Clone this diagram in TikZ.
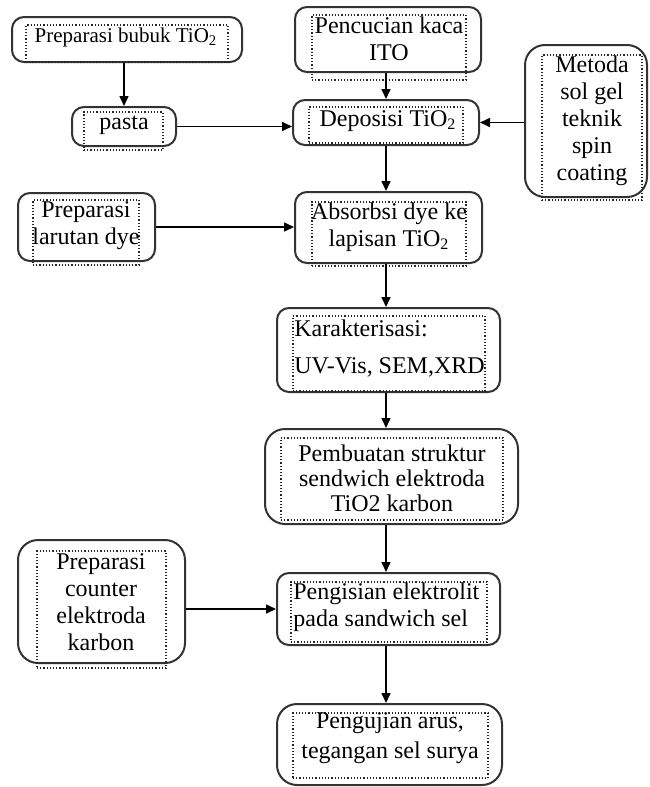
\documentclass[tikz,border=0pt]{standalone}
\usepackage{fontspec}
\setmainfont{Liberation Serif}
\usetikzlibrary{fit,arrows.meta}

\begin{document}
\begin{tikzpicture}[x=0.5pt, y=-0.5pt,
      >={Triangle[length=5pt,width=4.5pt]},
      box/.style={
        draw=black!80,
        line width=1pt,
        rounded corners=6pt,
        inner sep=0pt
      },
      tallbox/.style={
        box,
        rounded corners=10pt
      },
      dotbox/.style={
        draw=black!85,
        densely dotted,
        line width=0.6pt,
        inner sep=0pt
      },
      txt/.style={
        align=center,
        inner sep=0pt,
        font=\fontsize{12}{13.5}\selectfont
      },
      flow/.style={
        ->,
        line width=0.8pt
      },
    ]

    \useasboundingbox (0, 0) rectangle (649, 787);

    % left column
    \node [box, fit={(12, 17) (242, 62)}] (bubuk) {};
    \node [dotbox, fit={(26, 25) (228, 62)}] (bubuk-d) {};
    \node [txt, font=\fontsize{10.5}{12}\selectfont] (bubuk-t) at (126, 37)
          {Preparasi bubuk TiO\textsubscript{2}};

    \node [box, fit={(72, 107) (176, 146)}] (pasta) {};
    \node [dotbox, fit={(84, 112) (163, 150)}] (pasta-d) {};
    \node [txt] (pasta-t) at (124, 125) {pasta};

    \node [box, fit={(18, 193) (155, 261)}] (larutan) {};
    \node [dotbox, fit={(33, 200) (139, 265)}] (larutan-d) {};
    \node [txt] (larutan-t) at (86, 226) {Preparasi\\larutan dye};

    \node [tallbox, fit={(18, 540) (185, 663)}] (counter) {};
    \node [dotbox, fit={(37, 551) (166, 668)}] (counter-d) {};
    \node [txt] (counter-t) at (101, 602)
          {Preparasi\\counter\\elektroda\\karbon};

    % main column
    \node [box, fit={(295, 7) (481, 72)}] (cuci) {};
    \node [dotbox, fit={(312, 15) (466, 80)}] (cuci-d) {};
    \node [txt] (cuci-t) at (389, 39) {Pencucian kaca\\ITO};

    \node [box, fit={(293, 100) (479, 145)}] (depo) {};
    \node [dotbox, fit={(309, 107) (463, 143)}] (depo-d) {};
    \node [txt] (depo-t) at (388, 121) {Deposisi TiO\textsubscript{2}};

    \node [box, fit={(295, 192) (482, 263)}] (absorb) {};
    \node [dotbox, fit={(312, 202) (466, 266)}] (absorb-d) {};
    \node [txt] (absorb-t) at (389, 227)
          {Absorbsi dye ke\\lapisan TiO\textsubscript{2}};

    \node [box, fit={(277, 308) (500, 392)}] (karak) {};
    \node [dotbox, fit={(293, 316) (485, 391)}] (karak-d) {};
    \node [txt, align=left, anchor=west] (karak-t) at (294, 349)
          {Karakterisasi:\\[5pt]UV-Vis, SEM,XRD};

    \node [tallbox, fit={(265, 429) (518, 524)}] (buat) {};
    \node [dotbox, fit={(281, 438) (503, 520)}] (buat-d) {};
    \node [txt, font=\fontsize{12}{12.5}\selectfont] (buat-t) at (392, 478)
          {Pembuatan struktur\\sendwich elektroda\\TiO2 karbon};

    \node [box, fit={(277, 573) (500, 645)}] (isi) {};
    \node [dotbox, fit={(291, 582) (487, 642)}] (isi-d) {};
    \node [txt, align=left, anchor=west] (isi-t) at (293, 607)
          {Pengisian elektrolit\\pada sandwich sel};

    \node [tallbox, fit={(277, 704) (502, 785)}] (uji) {};
    \node [dotbox, fit={(293, 713) (488, 778)}] (uji-d) {};
    \node [txt, font=\fontsize{12}{15}\selectfont] (uji-t) at (390, 738)
          {Pengujian arus,\\tegangan sel surya};

    % right column
    \node [tallbox, fit={(525, 45) (647, 197)}] (metoda) {};
    \node [dotbox, fit={(542, 55) (642, 200)}] (metoda-d) {};
    \node [txt] (metoda-t) at (592, 121)
          {Metoda\\sol gel\\teknik\\spin\\coating};

    % connectors
    \coordinate (spine) at (386, 0);
    \draw [flow] (pasta |- bubuk.south) -- (pasta.north);
    \draw [flow] (pasta) -- (pasta -| depo.west);
    \draw [flow] (metoda.west |- depo) -- (depo.east);
    \draw [flow] (larutan) -- (larutan -| absorb.west);
    \draw [flow] (counter.east |- isi) -- (isi.west);
    \draw [flow] (spine |- cuci.south) -- (spine |- depo.north);
    \draw [flow] (spine |- depo.south) -- (spine |- absorb.north);
    \draw [flow] (spine |- absorb.south) -- (spine |- karak.north);
    \draw [flow] (spine |- karak.south) -- (spine |- buat.north);
    \draw [flow] (spine |- buat.south) -- (spine |- isi.north);
    \draw [flow] (spine |- isi.south) -- (spine |- uji.north);
\end{tikzpicture}
\end{document}
